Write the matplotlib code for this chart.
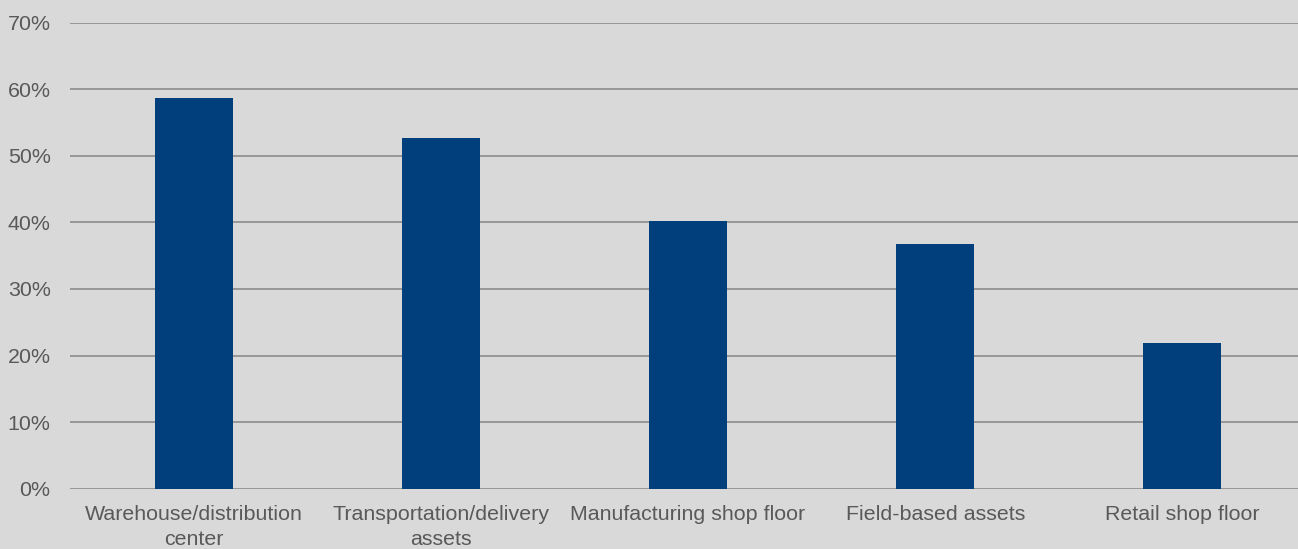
import matplotlib
matplotlib.use("Agg")
import matplotlib.pyplot as plt
from matplotlib.ticker import FuncFormatter

categories = ["Warehouse/distribution\ncenter", "Transportation/delivery\nassets",
              "Manufacturing shop floor", "Field-based assets", "Retail shop floor"]
values = [58.7, 52.7, 40.2, 36.7, 21.9]
yticks = [0, 10, 20, 30, 40, 50, 60, 70]

plt.rcParams['font.family'] = ['Liberation Sans', 'DejaVu Sans']
bg = "#d9d9d9"
fig = plt.figure(figsize=(12.98, 5.49), dpi=100, facecolor=bg)
ax = fig.add_axes([70/1298, 1-488.7/549, 1236/1298, 466.2/549], facecolor=bg)

x = list(range(len(categories)))
ax.bar(x, values, width=0.315, color="#003f7b", zorder=3)
ax.set_xlim(-0.5, len(categories) - 0.5)
ax.set_ylim(0, 70)
ax.set_yticks(yticks)
ax.yaxis.set_major_formatter(FuncFormatter(lambda v, p: f"{int(v)}%"))
ax.set_xticks(x)
ax.set_xticklabels(categories)
ax.grid(axis="y", color="#8c8c8c", linewidth=1.2, zorder=0)
for s in ax.spines.values():
    s.set_visible(False)
ax.tick_params(axis="both", length=0, colors="#595959", labelsize=15.4)
ax.tick_params(axis="y", pad=14)
ax.tick_params(axis="x", pad=12)
for lab in ax.get_xticklabels():
    lab.set_linespacing(1.35)

fig.savefig("out.png", dpi=100, facecolor=bg)
